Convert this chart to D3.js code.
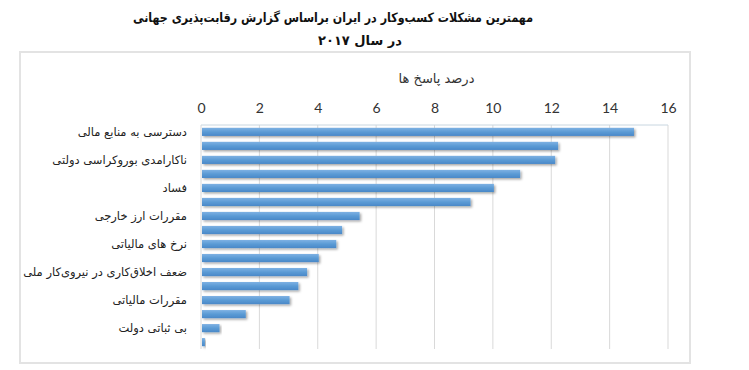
<!DOCTYPE html>
<html>
<head>
<meta charset="utf-8">
<script src="https://cdn.jsdelivr.net/npm/d3@7"></script>
<style>
  body { margin: 0; background: #fff; }
  svg { display: block; }
</style>
</head>
<body>
<div id="chart"></div>
<script>
// data (only every other bar carries a label)
const titleLines = ["مهمترین مشکلات کسب‌وکار در ایران براساس گزارش رقابت‌پذیری جهانی", "در سال ۲۰۱۷"];
const axisTitle = "درصد پاسخ ها";
const labels = [
    "دسترسی به منابع مالی", "",
    "ناکارامدی بوروکراسی دولتی", "",
    "فساد", "",
    "مقررات ارز خارجی", "",
    "نرخ های مالیاتی", "",
    "ضعف اخلاق‌کاری در نیروی‌کار ملی", "",
    "مقررات مالیاتی", "",
    "بی ثباتی دولت", ""
];
const values = [14.8, 12.2, 12.1, 10.9, 10.0, 9.2, 5.4, 4.8, 4.6, 4.0, 3.6, 3.3, 3.0, 1.5, 0.6, 0.1];
const xTicks = [0, 2, 4, 6, 8, 10, 12, 14, 16];

const W = 749, H = 370;
const margin = {top: 125, right: 81, bottom: 21, left: 201},
    width = W - margin.left - margin.right,
    height = H - margin.top - margin.bottom;

const svg = d3.select("#chart")
    .append("svg")
    .attr("width", W)
    .attr("height", H);

const defs = svg.append("defs");
const grad = defs.append("linearGradient")
    .attr("id", "barGrad")
    .attr("x1", 0).attr("y1", 0).attr("x2", 0).attr("y2", 1);
grad.append("stop").attr("offset", "0%").attr("stop-color", "#7eb1e3");
grad.append("stop").attr("offset", "50%").attr("stop-color", "#5b9bd5");
grad.append("stop").attr("offset", "100%").attr("stop-color", "#4a88c8");
const shadow = defs.append("filter").attr("id", "shadow")
    .attr("x", "-5%").attr("y", "-50%").attr("width", "115%").attr("height", "250%");
shadow.append("feDropShadow")
    .attr("dx", 1.5).attr("dy", 1.5).attr("stdDeviation", 1)
    .attr("flood-color", "#000").attr("flood-opacity", 0.35);

// outer frame
svg.append("rect")
    .attr("x", 20).attr("y", 52)
    .attr("width", 670).attr("height", 311)
    .attr("fill", "none")
    .attr("stroke", "#e3e3e3")
    .attr("stroke-width", 2);

// title
const title = svg.append("g")
    .selectAll("text")
    .data(titleLines)
    .join("text")
    .attr("x", (d, i) => i === 0 ? 333 : 360)
    .attr("y", (d, i) => 22 + i * 23)
    .attr("text-anchor", "middle")
    .attr("direction", "rtl")
    .style("font-family", "DejaVu Sans")
    .style("font-weight", "bold")
    .style("font-size", "13px")
    .style("fill", "#111")
    .text(d => d);
title.filter((d, i) => i === 0)
    .attr("textLength", 400)
    .attr("lengthAdjust", "spacingAndGlyphs");

const g = svg.append("g")
    .attr("transform", `translate(${margin.left},${margin.top})`);

// X axis (on top)
const x = d3.scaleLinear()
    .domain([0, 16])
    .range([0, width]);

const y = d3.scaleBand()
    .domain(d3.range(values.length))
    .range([0, height])
    .paddingInner(0.42)
    .paddingOuter(0.2);

// gridlines
g.append("g")
    .selectAll("line")
    .data(xTicks)
    .join("line")
    .attr("x1", d => x(d)).attr("x2", d => x(d))
    .attr("y1", 0).attr("y2", height)
    .attr("stroke", "#d9d9d9")
    .attr("stroke-width", 1);

g.append("line")
    .attr("x1", 0).attr("x2", width)
    .attr("y1", 0).attr("y2", 0)
    .attr("stroke", "#c8d6e0");

const xAxis = g.append("g")
    .call(d3.axisTop(x).tickValues(xTicks).tickSize(0).tickPadding(12));
xAxis.select(".domain").remove();
xAxis.selectAll("text")
    .style("font-family", "Lato")
    .style("font-size", "14px")
    .style("fill", "#333");

g.append("text")
    .attr("x", x(8) + 2)
    .attr("y", -42)
    .attr("text-anchor", "middle")
    .attr("direction", "rtl")
    .style("font-family", "DejaVu Sans")
    .style("font-size", "13px")
    .style("fill", "#333")
    .text(axisTitle);

// Y axis labels
const yAxis = g.append("g")
    .call(d3.axisLeft(y).tickFormat(i => labels[i]).tickSize(0).tickPadding(14));
yAxis.select(".domain").remove();
yAxis.selectAll("text")
    .attr("direction", "rtl")
    .attr("text-anchor", "start")
    .style("font-family", "DejaVu Sans")
    .style("font-size", "11.5px")
    .style("fill", "#222");

// Bars
g.selectAll("rect.bar")
    .data(values)
    .join("rect")
    .attr("class", "bar")
    .attr("x", x(0) + 1)
    .attr("y", (d, i) => y(i))
    .attr("width", d => x(d) - x(0))
    .attr("height", y.bandwidth())
    .attr("fill", "url(#barGrad)")
    .attr("filter", "url(#shadow)");
</script>
</body>
</html>
